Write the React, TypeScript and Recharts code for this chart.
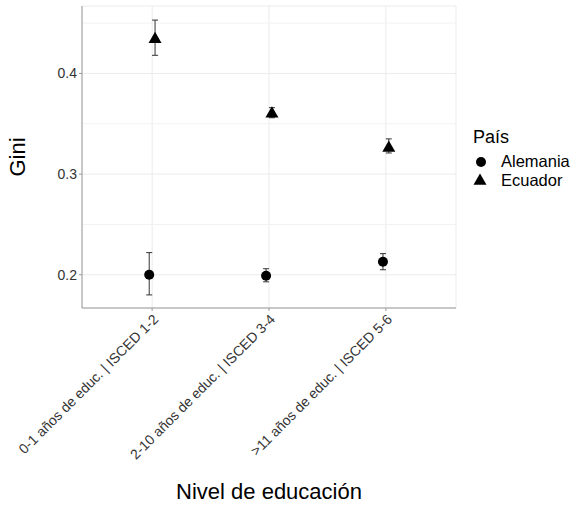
import { ScatterChart, Scatter, XAxis, YAxis, CartesianGrid, ErrorBar, ReferenceLine, Label } from "recharts";

const categories = [
  "0-1 años de educ. | ISCED 1-2",
  "2-10 años de educ. | ISCED 3-4",
  ">11 años de educ. | ISCED 5-6",
];
const alemaniaGini = [0.2, 0.199, 0.213];
const alemaniaLow = [0.18, 0.193, 0.205];
const alemaniaHigh = [0.222, 0.206, 0.221];
const ecuadorGini = [0.435, 0.361, 0.327];
const ecuadorLow = [0.418, 0.356, 0.321];
const ecuadorHigh = [0.453, 0.366, 0.335];
const yTicks = [0.2, 0.3, 0.4];
const yMinor = [0.25, 0.35, 0.45];

const dodge = 0.025;
const font = "'Liberation Sans', Arial, sans-serif";

const buildSeries = (gini: number[], low: number[], high: number[], shift: number) =>
  gini.map((g, i) => ({
    x: i + 1 + shift,
    y: g,
    err: [g - low[i], high[i] - g],
    name: categories[i],
  }));

const alemania = buildSeries(alemaniaGini, alemaniaLow, alemaniaHigh, -dodge);
const ecuador = buildSeries(ecuadorGini, ecuadorLow, ecuadorHigh, dodge);

const Circle = (props: any) => <circle cx={props.cx} cy={props.cy} r={5} fill="#000" />;
const Triangle = (props: any) => {
  const { cx, cy } = props;
  return <polygon points={`${cx},${cy - 6.5} ${cx - 6.5},${cy + 4.8} ${cx + 6.5},${cy + 4.8}`} fill="#000" />;
};

const XTick = ({ x, y, payload }: any) => (
  <text
    x={x}
    y={y}
    dy="0.72em"
    transform={`rotate(-45 ${x} ${y})`}
    textAnchor="end"
    fontSize={14}
    fontFamily={font}
    fill="#333"
  >
    {categories[payload.value - 1]}
  </text>
);

const App = () => {
  return (
    <div style={{ position: "absolute", left: 0, top: 0, width: 577, height: 505, background: "#fff" }}>
      <ScatterChart width={577} height={505} margin={{ top: 6, right: 121, left: 0, bottom: 0 }}>
        <CartesianGrid stroke="#ebebeb" strokeWidth={1} />
        {yMinor.map((v) => (
          <ReferenceLine key={v} y={v} stroke="#f2f2f2" strokeWidth={1} />
        ))}
        <XAxis
          type="number"
          dataKey="x"
          domain={[0.4, 3.6]}
          ticks={[1, 2, 3]}
          height={197}
          tickSize={3}
          tick={<XTick />}
          stroke="#999"
          axisLine={{ stroke: "#999" }}
          tickLine={{ stroke: "#999" }}
          allowDataOverflow
        >
          <Label
            content={({ viewBox }: any) => (
              <text
                x={viewBox.x + viewBox.width / 2}
                y={499}
                textAnchor="middle"
                fontSize={22}
                fontFamily={font}
                fill="#000"
              >
                Nivel de educación
              </text>
            )}
          />
        </XAxis>
        <XAxis xAxisId="top" type="number" dataKey="x" orientation="top" domain={[0.4, 3.6]} height={0} tick={false} tickLine={false} axisLine={{ stroke: "#999" }} />
        <YAxis
          type="number"
          dataKey="y"
          domain={[0.167, 0.467]}
          ticks={yTicks}
          width={82}
          tickSize={3}
          tickMargin={2}
          tickFormatter={(v: number) => v.toFixed(1)}
          tick={{ fontSize: 14, fontFamily: font, fill: "#333" }}
          axisLine={{ stroke: "#999" }}
          tickLine={{ stroke: "#999" }}
          allowDataOverflow
        >
          <Label
            content={() => (
              <text
                x={25}
                y={157}
                transform="rotate(-90 25 157)"
                textAnchor="middle"
                fontSize={22}
                fontFamily={font}
                fill="#000"
              >
                Gini
              </text>
            )}
          />
        </YAxis>
        <YAxis yAxisId="right" type="number" orientation="right" domain={[0.167, 0.467]} width={0} tick={false} tickLine={false} axisLine={{ stroke: "#999" }} />
        <Scatter name="Alemania" data={alemania} shape={<Circle />} isAnimationActive={false}>
          <ErrorBar dataKey="err" direction="y" width={3} stroke="#333" strokeWidth={1} />
        </Scatter>
        <Scatter name="Ecuador" data={ecuador} shape={<Triangle />} isAnimationActive={false}>
          <ErrorBar dataKey="err" direction="y" width={3} stroke="#333" strokeWidth={1} />
        </Scatter>
      </ScatterChart>
      <svg style={{ position: "absolute", left: 460, top: 125 }} width={117} height={70}>
        <text x={13} y={18} fontSize={18} fontFamily={font} fill="#000">País</text>
        <circle cx={21} cy={37} r={5} fill="#000" />
        <text x={41} y={42} fontSize={16.5} fontFamily={font} fill="#000">Alemania</text>
        <polygon points="20,48.5 13.5,59.8 26.5,59.8" fill="#000" />
        <text x={41} y={61} fontSize={16.5} fontFamily={font} fill="#000">Ecuador</text>
      </svg>
    </div>
  );
};

export default App;
